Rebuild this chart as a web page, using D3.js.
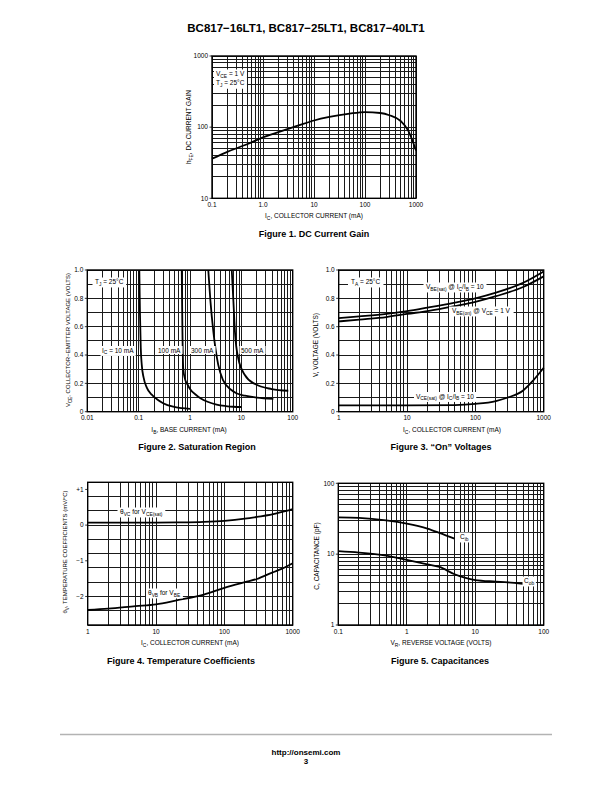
<!DOCTYPE html>
<html><head><meta charset="utf-8">
<script src="https://cdn.jsdelivr.net/npm/d3@7"></script>
<style>
body{margin:0;background:#fff}
svg{display:block}
text{font-family:"Liberation Sans",Arial,Helvetica,sans-serif;fill:#000}
</style>
</head><body>
<svg id="page" width="612" height="792"></svg>
<script>
// ---------------- DATA ----------------
// Figure 1. DC Current Gain
const fig1Ic  = [0.1, 0.2, 0.5, 1, 2, 5, 10, 20, 50, 100, 200, 300, 500, 700, 1000];
const fig1Hfe = [36, 45, 58, 72, 85, 106, 124, 139, 155, 163, 158, 147, 122, 90, 47];
const fig1XTicks = [0.1, 1, 10, 100, 1000];
const fig1XLabels = ["0.1", "1.0", "10", "100", "1000"];
const fig1YTicks = [10, 100, 1000];
const fig1YLabels = ["10", "100", "1000"];

// Figure 2. Saturation Region (IB in mA, VCE in V)
const fig2Ib10   = [0.103, 0.106, 0.110, 0.115, 0.125, 0.144, 0.18, 0.224, 0.30, 0.47, 0.70, 1.0];
const fig2Vce10  = [1.0, 0.70, 0.45, 0.33, 0.24, 0.17, 0.12, 0.09, 0.06, 0.035, 0.025, 0.02];
const fig2Ib100  = [0.69, 0.71, 0.74, 0.80, 0.90, 1.0, 1.3, 1.6, 2.2, 3.3, 5, 7, 10];
const fig2Vce100 = [1.0, 0.60, 0.30, 0.23, 0.19, 0.16, 0.12, 0.095, 0.07, 0.05, 0.04, 0.035, 0.033];
const fig2Ib300  = [2.27, 2.5, 2.85, 3.55, 4.4, 6.4, 8, 11.7, 20, 42];
const fig2Vce300 = [1.0, 0.78, 0.565, 0.33, 0.223, 0.153, 0.13, 0.113, 0.10, 0.09];
const fig2Ib500  = [6.5, 7, 7.5, 8.7, 11.7, 18.5, 39, 82];
const fig2Vce500 = [1.0, 0.78, 0.565, 0.377, 0.259, 0.195, 0.16, 0.148];
const fig2XTicks = [0.01, 0.1, 1, 10, 100];
const fig2XLabels = ["0.01", "0.1", "1", "10", "100"];
const fig2YTicks = [0, 0.2, 0.4, 0.6, 0.8, 1.0];
const fig2YLabels = ["0", "0.2", "0.4", "0.6", "0.8", "1.0"];

// Figure 3. "On" Voltages
const fig3Ic     = [1, 2, 5, 10, 20, 50, 100, 200, 500, 1000];
const fig3VbeSat = [0.66, 0.672, 0.69, 0.71, 0.735, 0.77, 0.80, 0.84, 0.91, 0.99];
const fig3VbeOn  = [0.637, 0.65, 0.668, 0.69, 0.71, 0.745, 0.775, 0.815, 0.88, 0.955];
const fig3IcSat  = [1, 10, 50, 100, 200, 300, 500, 700, 1000];
const fig3VceSat = [0.045, 0.045, 0.047, 0.055, 0.075, 0.10, 0.15, 0.22, 0.31];
const fig3XTicks = [1, 10, 100, 1000];
const fig3XLabels = ["1", "10", "100", "1000"];
const fig3YTicks = [0, 0.2, 0.4, 0.6, 0.8, 1.0];
const fig3YLabels = ["0", "0.2", "0.4", "0.6", "0.8", "1.0"];

// Figure 4. Temperature Coefficients
const fig4Ic      = [1, 2, 5, 10, 20, 50, 100, 200, 300, 500, 700, 1000];
const fig4ThetaVC = [0.07, 0.07, 0.07, 0.07, 0.075, 0.09, 0.12, 0.18, 0.23, 0.30, 0.37, 0.45];
const fig4ThetaVB = [-2.38, -2.34, -2.27, -2.22, -2.11, -1.95, -1.76, -1.60, -1.51, -1.33, -1.22, -1.07];
const fig4XTicks = [1, 10, 100, 1000];
const fig4XLabels = ["1", "10", "100", "1000"];
const fig4YTicks = [1, 0, -1, -2];
const fig4YLabels = ["+1", "0", "\u22121", "\u22122"];

// Figure 5. Capacitances
const fig5VrCib = [0.1, 0.2, 0.5, 1, 2, 3, 5];
const fig5Cib   = [33, 32.5, 30, 27, 23, 20, 16.5];
const fig5VrCob = [0.1, 0.2, 0.5, 1, 2, 3, 5, 7, 10, 20, 30, 50];
const fig5Cob   = [11, 10.5, 9.5, 8.3, 7.2, 6.6, 5.2, 4.65, 4.3, 4.1, 4.0, 3.8];
const fig5XTicks = [0.1, 1, 10, 100];
const fig5XLabels = ["0.1", "1", "10", "100"];
const fig5YTicks = [1, 10, 100];
const fig5YLabels = ["1", "10", "100"];

// ---------------- DRAWING ----------------
const svg = d3.select('#page');
const zip = (a, b) => a.map((v, i) => [v, b[i]]);

function rich(textSel, str, fs) {
  const re = /_\{([^}]*)\}/g;
  let last = 0, m;
  const parts = [];
  while ((m = re.exec(str))) {
    if (m.index > last) parts.push([str.slice(last, m.index), false]);
    parts.push([m[1], true]);
    last = re.lastIndex;
  }
  if (last < str.length) parts.push([str.slice(last), false]);
  let shift = 0;
  parts.forEach(([t, sub]) => {
    const target = sub ? fs * 0.3 : 0;
    textSel.append('tspan').attr('dy', target - shift)
      .attr('font-size', sub ? fs * 0.75 : fs).text(t);
    shift = target;
  });
  return textSel;
}

function logGrid(a, b) {
  const out = [];
  const e0 = Math.round(Math.log10(a)), e1 = Math.round(Math.log10(b));
  for (let e = e0; e < e1; e++) for (let k = 1; k <= 9; k++) out.push(k * Math.pow(10, e));
  out.push(b);
  return out;
}

function chart(c) {
  const g = svg.append('g');
  const x = (c.xlog ? d3.scaleLog() : d3.scaleLinear()).domain(c.xd).range([c.l, c.r]);
  const y = (c.ylog ? d3.scaleLog() : d3.scaleLinear()).domain(c.yd).range([c.b, c.t]);
  const xg = c.xlog ? logGrid(c.xd[0], c.xd[1]) : c.xgrid;
  const yg = c.ylog ? logGrid(c.yd[0], c.yd[1]) : c.ygrid;
  const grid = g.append('g').attr('stroke', '#1a1a1a').attr('stroke-width', 1)
    .attr('shape-rendering', 'crispEdges');
  grid.selectAll('.vx').data(xg).join('line')
    .attr('x1', d => x(d)).attr('x2', d => x(d)).attr('y1', c.t).attr('y2', c.b);
  grid.selectAll('.hy').data(yg).join('line')
    .attr('y1', d => y(d)).attr('y2', d => y(d)).attr('x1', c.l).attr('x2', c.r);
  g.append('rect').attr('x', c.l).attr('y', c.t).attr('width', c.r - c.l).attr('height', c.b - c.t)
    .attr('fill', 'none').attr('stroke', '#000').attr('stroke-width', 1.4);
  // ticks on y for labelled values
  g.selectAll('.yt').data(c.yTicks).join('line')
    .attr('x1', c.l - 2.5).attr('x2', c.l).attr('y1', d => y(d)).attr('y2', d => y(d))
    .attr('stroke', '#000').attr('stroke-width', 0.8);
  // curves
  const line = d3.line().x(d => x(d[0])).y(d => y(d[1])).curve(d3.curveMonotoneX);
  g.selectAll('.curve').data(c.series).join('path')
    .attr('d', d => line(d)).attr('fill', 'none').attr('stroke', '#000')
    .attr('stroke-width', 1.8).attr('stroke-linejoin', 'round');
  // tick labels
  g.selectAll('.xl').data(c.xTicks).join('text')
    .attr('x', d => x(d)).attr('y', c.b + 8.5).attr('text-anchor', 'middle')
    .attr('font-size', 6.5).text((d, i) => c.xLabels[i]);
  g.selectAll('.yl').data(c.yTicks).join('text')
    .attr('x', c.l - 4).attr('y', d => y(d) + 2.3)
    .attr('text-anchor', 'end').attr('font-size', 6.5).text((d, i) => c.yLabels[i]);
  // axis titles
  rich(g.append('text').attr('x', c.xtx).attr('y', c.b + 20).attr('text-anchor', 'middle')
    .attr('font-size', 6.5), c.xTitle, 6.5);
  rich(g.append('text').attr('transform', `translate(${c.ytx},${c.yty}) rotate(-90)`)
    .attr('text-anchor', 'middle').attr('font-size', c.ytfs || 6.5), c.yTitle, c.ytfs || 6.5);
  // caption
  g.append('text').attr('x', c.capx).attr('y', c.b + 38.5).attr('text-anchor', 'middle')
    .attr('font-size', 9).attr('font-weight', 'bold').text(c.caption);
  // in-plot labels with white boxes
  (c.labels || []).forEach(L => {
    const lg = g.append('g');
    const r = lg.append('rect').attr('fill', '#fff');
    if (L.lines) {
      L.lines.forEach((s, i) => {
        const tt = lg.append('text').attr('x', L.x).attr('y', L.y + i * 9.3).attr('font-size', 6.5);
        rich(tt, s, 6.5);
      });
    } else rich(lg.append('text').attr('x', L.x).attr('y', L.y).attr('font-size', 6.5), L.text, 6.5);
    const bb = lg.node().getBBox();
    const p = L.pad || 1.5;
    r.attr('x', bb.x - p).attr('y', bb.y - 0.5).attr('width', bb.width + 2 * p).attr('height', bb.height + 1);
  });
  return { x, y, g };
}

// Title
svg.append('text').attr('x', 306).attr('y', 32).attr('text-anchor', 'middle')
  .attr('font-size', 11.5).attr('font-weight', 'bold')
  .text('BC817\u221216LT1, BC817\u221225LT1, BC817\u221240LT1');

// Figure 1
chart({
  l: 212, r: 416, t: 56, b: 198.3, xlog: true, ylog: true, xd: [0.1, 1000], yd: [10, 1000],
  series: [zip(fig1Ic, fig1Hfe)],
  xTicks: fig1XTicks, xLabels: fig1XLabels, yTicks: fig1YTicks, yLabels: fig1YLabels,
  xTitle: 'I_{C}, COLLECTOR CURRENT (mA)', xtx: 314,
  yTitle: 'h_{FE}, DC CURRENT GAIN', ytx: 191, yty: 127,
  caption: 'Figure 1. DC Current Gain', capx: 314,
  labels: [{ x: 216, y: 76, lines: ['V_{CE} = 1 V', 'T_{J} = 25\u00B0C'], pad: 2 }]
});

// Figure 2
chart({
  l: 87.3, r: 292.7, t: 270, b: 411.7, xlog: true, ylog: false, xd: [0.01, 100], yd: [0, 1],
  ygrid: d3.range(0, 1.0001, 0.1),
  series: [zip(fig2Ib10, fig2Vce10), zip(fig2Ib100, fig2Vce100), zip(fig2Ib300, fig2Vce300), zip(fig2Ib500, fig2Vce500)],
  xTicks: fig2XTicks, xLabels: fig2XLabels, yTicks: fig2YTicks, yLabels: fig2YLabels,
  xTitle: 'I_{B}, BASE CURRENT (mA)', xtx: 189,
  yTitle: 'V_{CE}, COLLECTOR\u2212EMITTER VOLTAGE (VOLTS)', ytx: 70, yty: 340, ytfs: 6,
  caption: 'Figure 2. Saturation Region', capx: 197,
  labels: [
    { x: 95, y: 284, text: 'T_{J} = 25\u00B0C', pad: 2.5 },
    { x: 102, y: 352.5, text: 'I_{C} = 10 mA' },
    { x: 158, y: 352.5, text: '100 mA' },
    { x: 191, y: 352.5, text: '300 mA' },
    { x: 241, y: 352.5, text: '500 mA' }
  ]
});

// Figure 3
chart({
  l: 338.7, r: 543.7, t: 270, b: 411.7, xlog: true, ylog: false, xd: [1, 1000], yd: [0, 1],
  ygrid: d3.range(0, 1.0001, 0.1),
  series: [zip(fig3Ic, fig3VbeSat), zip(fig3Ic, fig3VbeOn), zip(fig3IcSat, fig3VceSat)],
  xTicks: fig3XTicks, xLabels: fig3XLabels, yTicks: fig3YTicks, yLabels: fig3YLabels,
  xTitle: 'I_{C}, COLLECTOR CURRENT (mA)', xtx: 452,
  yTitle: 'V, VOLTAGE (VOLTS)', ytx: 318, yty: 345,
  caption: 'Figure 3. \u201COn\u201D Voltages', capx: 441,
  labels: [
    { x: 351, y: 284, text: 'T_{A} = 25\u00B0C', pad: 3 },
    { x: 426, y: 289, text: 'V_{BE(sat)} @ I_{C}/I_{B} = 10', pad: 2.5 },
    { x: 452, y: 313, text: 'V_{BE(on)} @ V_{CE} = 1 V', pad: 3 },
    { x: 416, y: 398.5, text: 'V_{CE(sat)} @ I_{C}/I_{B} = 10', pad: 2 }
  ]
});

// Figure 4
chart({
  l: 87.7, r: 292.7, t: 482.3, b: 625, xlog: true, ylog: false, xd: [1, 1000], yd: [-2.8, 1.2],
  ygrid: d3.range(-2.8, 1.2001, 0.4),
  series: [zip(fig4Ic, fig4ThetaVC), zip(fig4Ic, fig4ThetaVB)],
  xTicks: fig4XTicks, xLabels: fig4XLabels, yTicks: fig4YTicks, yLabels: fig4YLabels,
  xTitle: 'I_{C}, COLLECTOR CURRENT (mA)', xtx: 190,
  yTitle: '\u03B8_{V}, TEMPERATURE COEFFICIENTS (mV/\u00B0C)', ytx: 67, yty: 552, ytfs: 6,
  caption: 'Figure 4. Temperature Coefficients', capx: 181,
  labels: [
    { x: 120, y: 514, text: '\u03B8_{VC} for V_{CE(sat)}', pad: 2.5 },
    { x: 148, y: 595, text: '\u03B8_{VB} for V_{BE}', pad: 2 }
  ]
});

// Figure 5
chart({
  l: 338.3, r: 543.7, t: 483.3, b: 625, xlog: true, ylog: true, xd: [0.1, 100], yd: [1, 100],
  series: [zip(fig5VrCib, fig5Cib), zip(fig5VrCob, fig5Cob)],
  xTicks: fig5XTicks, xLabels: fig5XLabels, yTicks: fig5YTicks, yLabels: fig5YLabels,
  xTitle: 'V_{R}, REVERSE VOLTAGE (VOLTS)', xtx: 441,
  yTitle: 'C, CAPACITANCE (pF)', ytx: 319, yty: 556,
  caption: 'Figure 5. Capacitances', capx: 440,
  labels: [
    { x: 460, y: 539, text: 'C_{ib}', pad: 1.5 },
    { x: 524, y: 583, text: 'C_{ob}', pad: 1.5 }
  ]
});

// Footer
svg.append('line').attr('x1', 60).attr('x2', 552).attr('y1', 734.5).attr('y2', 734.5)
  .attr('stroke', '#b3b3b3').attr('stroke-width', 1.5);
svg.append('text').attr('x', 306).attr('y', 755).attr('text-anchor', 'middle')
  .attr('font-size', 8).attr('font-weight', 'bold').text('http://onsemi.com');
svg.append('text').attr('x', 306).attr('y', 764).attr('text-anchor', 'middle')
  .attr('font-size', 8).attr('font-weight', 'bold').text('3');
</script>
</body></html>
